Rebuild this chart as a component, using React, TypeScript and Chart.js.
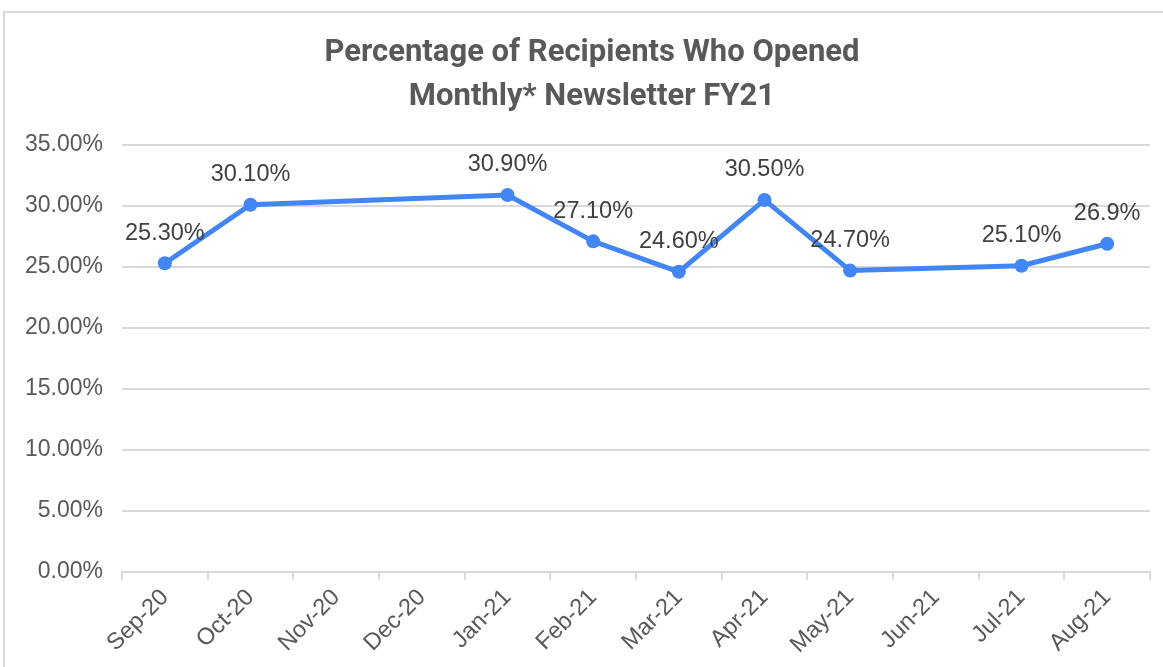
import React, { useEffect, useRef } from "react";
import { Chart, registerables } from "chart.js";

Chart.register(...registerables);

const titleLines = ["Percentage of Recipients Who Opened", "Monthly* Newsletter FY21"];
const months = ["Sep-20", "Oct-20", "Nov-20", "Dec-20", "Jan-21", "Feb-21", "Mar-21", "Apr-21", "May-21", "Jun-21", "Jul-21", "Aug-21"];
const openRates: (number | null)[] = [25.3, 30.1, null, null, 30.9, 27.1, 24.6, 30.5, 24.7, null, 25.1, 26.9];
const pointLabels: (string | null)[] = ["25.30%", "30.10%", null, null, "30.90%", "27.10%", "24.60%", "30.50%", "24.70%", null, "25.10%", "26.9%"];
const yTicks = [0, 5, 10, 15, 20, 25, 30, 35];

const TITLE_FONT = "bold 31px Roboto";

const labelPlugin = {
  id: "pointLabels",
  afterDatasetsDraw(chart: any) {
    const ctx = chart.ctx;
    const meta = chart.getDatasetMeta(0);
    ctx.save();
    ctx.font = "23.5px 'Liberation Sans', Arial, sans-serif";
    ctx.fillStyle = "#404040";
    ctx.textAlign = "center";
    ctx.textBaseline = "middle";
    meta.data.forEach((pt: any, i: number) => {
      const txt = pointLabels[i];
      if (txt == null || openRates[i] == null) return;
      ctx.fillText(txt, pt.x, pt.y - 30);
    });
    ctx.restore();
  },
};

const titlePlugin = {
  id: "centeredTitle",
  afterDraw(chart: any) {
    const ctx = chart.ctx;
    ctx.save();
    ctx.font = TITLE_FONT;
    ctx.fillStyle = "#595959";
    ctx.textAlign = "center";
    ctx.textBaseline = "middle";
    titleLines.forEach((line, i) => {
      ctx.fillText(line, 592, 53 + i * 44);
    });
    ctx.restore();
  },
};

export default function App() {
  const ref = useRef<HTMLCanvasElement>(null);
  useEffect(() => {
    if (!ref.current) return;
    const chart = new Chart(ref.current, {
      type: "line",
      data: {
        labels: months,
        datasets: [
          {
            data: openRates,
            borderColor: "#4285F4",
            backgroundColor: "#4285F4",
            borderWidth: 5,
            pointRadius: 7,
            pointBackgroundColor: "#4285F4",
            pointBorderWidth: 0,
            spanGaps: true,
            tension: 0,
          },
        ],
      },
      options: {
        animation: false,
        responsive: false,
        layout: { padding: { top: 12, left: 6, right: 13, bottom: 4 } },
        plugins: {
          legend: { display: false },
          tooltip: { enabled: false },
          title: {
            display: true,
            text: titleLines,
            color: "rgba(0,0,0,0)",
            font: { family: "Roboto", size: 31, weight: "bold", lineHeight: 1.42 },
            padding: { top: 19, bottom: 26 },
          },
        },
        scales: {
          x: {
            offset: true,
            grid: {
              offset: true,
              drawOnChartArea: false,
              drawTicks: true,
              tickLength: 8,
              color: "#d9d9d9",
              lineWidth: 2,
            },
            border: { display: true, color: "#d9d9d9", width: 2 },
            ticks: {
              color: "#595959",
              font: { family: "'Liberation Sans', Arial, sans-serif", size: 23.5 },
              maxRotation: 45,
              minRotation: 45,
              padding: 4,
              autoSkip: false,
            },
          },
          y: {
            min: 0,
            max: 35,
            afterBuildTicks: (axis: any) => {
              axis.ticks = yTicks.map((v) => ({ value: v }));
            },
            grid: { color: "#d9d9d9", lineWidth: 2, drawTicks: false },
            border: { display: false },
            ticks: {
              color: "#595959",
              font: { family: "'Liberation Sans', Arial, sans-serif", size: 23 },
              padding: 19,
              callback: (v: any) => Number(v).toFixed(2) + "%",
            },
          },
        },
      },
      plugins: [labelPlugin, titlePlugin],
    });
    return () => chart.destroy();
  }, []);

  return (
    <div style={{ position: "fixed", left: 0, top: 0, width: 1163, height: 667, background: "#fff", overflow: "hidden" }}>
      <div style={{ position: "absolute", left: 3, top: 11, width: 1200, height: 700, border: "2px solid #d9d9d9", boxSizing: "border-box" }} />
      <canvas ref={ref} width={1163} height={667} style={{ position: "absolute", left: 0, top: 0 }} />
    </div>
  );
}
